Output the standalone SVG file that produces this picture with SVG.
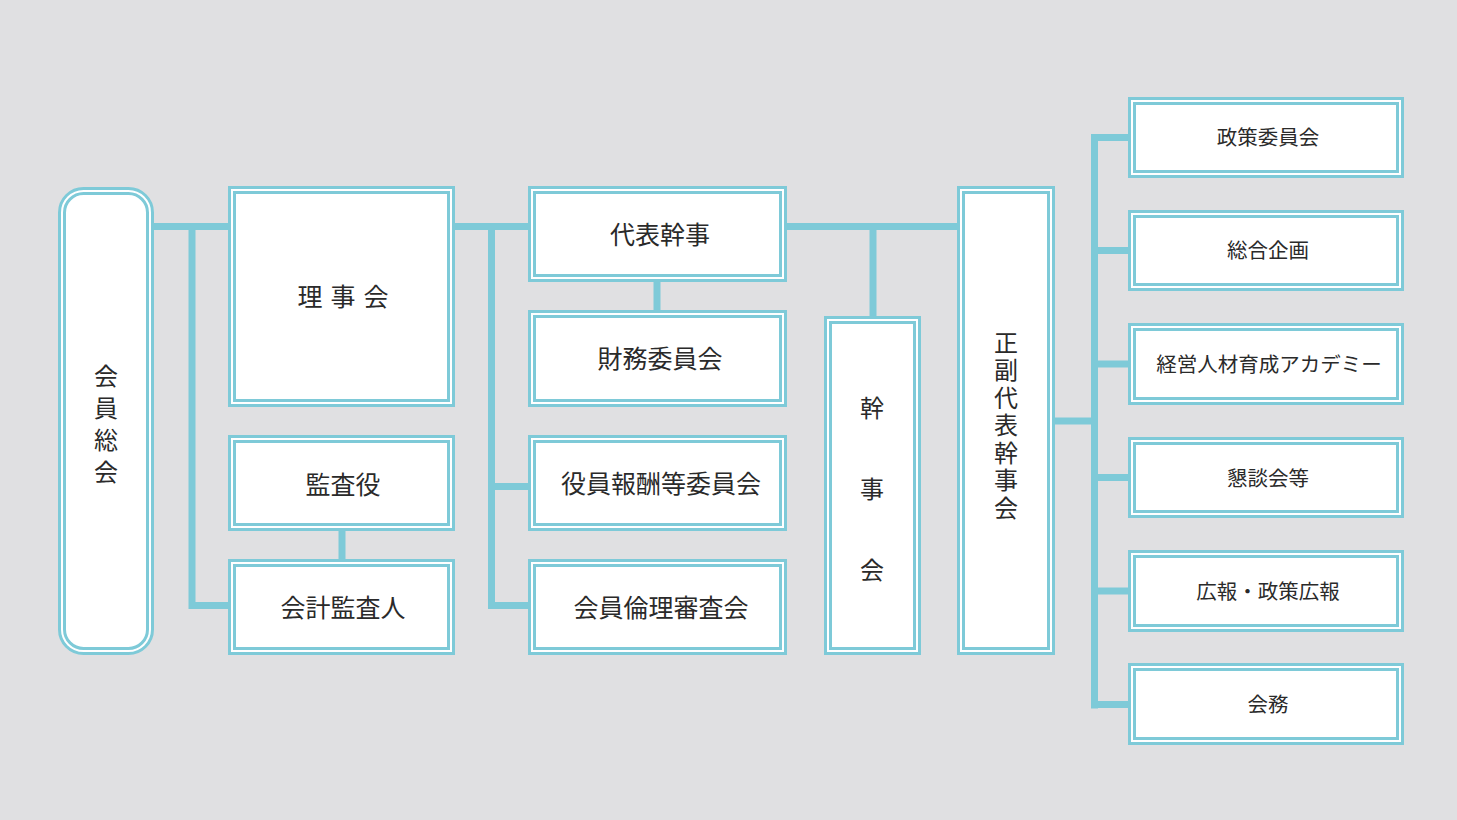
<svg xmlns="http://www.w3.org/2000/svg" width="1457" height="820" viewBox="0 0 1457 820">
<style>
.o{fill:#fff;stroke:#7ecad8;stroke-width:3}
.i{fill:none;stroke:#7ecad8;stroke-width:3}
.c{fill:none;stroke:#7ecad8;stroke-width:7}
text{font-family:"Noto Sans CJK JP","Noto Sans",sans-serif;fill:#2a2a2a;text-anchor:middle;dominant-baseline:central}
.l{font-size:25px}
.s{font-size:20.5px}
.v{font-size:24px;writing-mode:vertical-rl}
</style>
<rect width="1457" height="820" fill="#e0e0e2"/>
<g id="connectors">
<path class="c" d="M154 226.5H228M192 226.5V605.5H228"/>
<path class="c" d="M455 226.5H528M491.5 226.5V605.5H528M491.5 486.5H528"/>
<path class="c" d="M657 282V310M342 531V559"/>
<path class="c" d="M787 226.5H957M873 226.5V316"/>
<path class="c" d="M1055 421H1094.5M1094.5 134V708.5M1094.5 137.5H1128M1094.5 250.5H1128M1094.5 364H1128M1094.5 477.5H1128M1094.5 591H1128M1094.5 704.5H1128"/>
</g>
<g id="n-kaiin-sokai">
<rect class="o" x="59.5" y="188.5" width="93" height="465" rx="24"/>
<rect class="i" x="64.5" y="193.5" width="83" height="455" rx="19"/>
<text class="v" x="106" y="428" letter-spacing="8">会員総会</text>
</g>
<g id="n-rijikai">
<rect class="o" x="229.5" y="187.5" width="224" height="218"/><rect class="i" x="234.5" y="192.5" width="214" height="208"/>
<text class="l" x="347" y="295" font-size="24" letter-spacing="8">理事会</text>
</g>
<g id="n-kansayaku">
<rect class="o" x="229.5" y="436.5" width="224" height="93"/><rect class="i" x="234.5" y="441.5" width="214" height="83"/>
<text class="l" x="343" y="483">監査役</text>
</g>
<g id="n-kaikei">
<rect class="o" x="229.5" y="560.5" width="224" height="93"/><rect class="i" x="234.5" y="565.5" width="214" height="83"/>
<text class="l" x="343" y="606">会計監査人</text>
</g>
<g id="n-daihyo">
<rect class="o" x="529.5" y="187.5" width="256" height="93"/><rect class="i" x="534.5" y="192.5" width="246" height="83"/>
<text class="l" x="660" y="233">代表幹事</text>
</g>
<g id="n-zaimu">
<rect class="o" x="529.5" y="311.5" width="256" height="94"/><rect class="i" x="534.5" y="316.5" width="246" height="84"/>
<text class="l" x="660" y="357">財務委員会</text>
</g>
<g id="n-yakuin">
<rect class="o" x="529.5" y="436.5" width="256" height="93"/><rect class="i" x="534.5" y="441.5" width="246" height="83"/>
<text class="l" x="661" y="482">役員報酬等委員会</text>
</g>
<g id="n-rinri">
<rect class="o" x="529.5" y="560.5" width="256" height="93"/><rect class="i" x="534.5" y="565.5" width="246" height="83"/>
<text class="l" x="661" y="606">会員倫理審査会</text>
</g>
<g id="n-kanjikai">
<rect class="o" x="825.5" y="317.5" width="94" height="336"/><rect class="i" x="830.5" y="322.5" width="84" height="326"/>
<text class="v" x="872" y="517" letter-spacing="57">幹事会</text>
</g>
<g id="n-seifuku">
<rect class="o" x="958.5" y="187.5" width="95" height="466"/><rect class="i" x="963.5" y="192.5" width="85" height="456"/>
<text class="v" x="1006" y="427" letter-spacing="3.5">正副代表幹事会</text>
</g>
<g id="n-seisaku">
<rect class="o" x="1129.5" y="98.5" width="273" height="78"/><rect class="i" x="1134.5" y="103.5" width="263" height="68"/>
<text class="s" x="1268" y="136">政策委員会</text>
</g>
<g id="n-sogo">
<rect class="o" x="1129.5" y="211.5" width="273" height="78"/><rect class="i" x="1134.5" y="216.5" width="263" height="68"/>
<text class="s" x="1268" y="249">総合企画</text>
</g>
<g id="n-keiei">
<rect class="o" x="1129.5" y="324.5" width="273" height="79"/><rect class="i" x="1134.5" y="329.5" width="263" height="69"/>
<text class="s" x="1269" y="363">経営人材育成アカデミー</text>
</g>
<g id="n-kondan">
<rect class="o" x="1129.5" y="438.5" width="273" height="78"/><rect class="i" x="1134.5" y="443.5" width="263" height="68"/>
<text class="s" x="1268" y="477">懇談会等</text>
</g>
<g id="n-koho">
<rect class="o" x="1129.5" y="551.5" width="273" height="79"/><rect class="i" x="1134.5" y="556.5" width="263" height="69"/>
<text class="s" x="1268" y="590">広報・政策広報</text>
</g>
<g id="n-kaimu">
<rect class="o" x="1129.5" y="664.5" width="273" height="79"/><rect class="i" x="1134.5" y="669.5" width="263" height="69"/>
<text class="s" x="1268" y="703">会務</text>
</g>
</svg>
